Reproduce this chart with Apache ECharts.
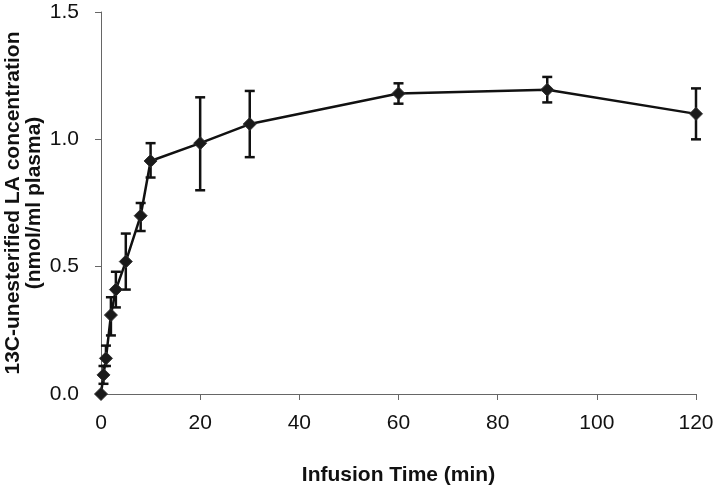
<!DOCTYPE html>
<html><head><meta charset="utf-8">
<script src="https://cdn.jsdelivr.net/npm/echarts@6/dist/echarts.min.js"></script>
<style>html,body{margin:0;padding:0;background:#fff}#c{width:717px;height:491px}</style>
</head><body><div id="c"></div>
<script>
var times = [0, 0.5, 1, 2, 3, 5, 8, 10, 20, 30, 60, 90, 120];
var means = [0.0, 0.075, 0.14, 0.31, 0.41, 0.52, 0.70, 0.915, 0.985, 1.06, 1.18, 1.195, 1.10];
var errUp = [0.0, 0.035, 0.05, 0.07, 0.07, 0.11, 0.05, 0.07, 0.18, 0.13, 0.04, 0.05, 0.10];
var errDown = [0.0, 0.035, 0.03, 0.08, 0.07, 0.11, 0.06, 0.065, 0.185, 0.13, 0.04, 0.05, 0.10];
var yTicks = ['0.0', '0.5', '1.0', '1.5'];

var lineData = times.map(function(t, i){ return [t, means[i]]; });
var errData = times.map(function(t, i){ return [t, means[i] - errDown[i], means[i] + errUp[i]]; });

var chart = echarts.init(document.getElementById('c'), null, {renderer: 'canvas'});
chart.setOption({
  animation: false,
  backgroundColor: '#fff',
  grid: {left: 101, right: 21, top: 12, bottom: 97, containLabel: false, outerBoundsMode: 'none'},
  xAxis: {
    type: 'value', min: 0, max: 120, interval: 20,
    name: 'Infusion Time (min)', nameLocation: 'middle', nameGap: 71, nameMoveOverlap: false,
    nameTextStyle: {fontFamily: 'Liberation Sans', fontWeight: 'bold', fontSize: 21, color: '#111'},
    axisLine: {show: true, lineStyle: {color: '#666', width: 1}},
    axisTick: {show: true, inside: false, length: 6, lineStyle: {color: '#666'}},
    axisLabel: {fontFamily: 'Liberation Sans', fontSize: 21, color: '#111', margin: 19},
    splitLine: {show: false}
  },
  yAxis: {
    type: 'value', min: 0, max: 1.5, interval: 0.5,
    name: '13C-unesterified LA concentration\n(nmol/ml plasma)', nameLocation: 'middle', nameGap: 56, nameMoveOverlap: false,
    nameTextStyle: {fontFamily: 'Liberation Sans', fontWeight: 'bold', fontSize: 21, color: '#111', lineHeight: 21},
    axisLine: {show: true, lineStyle: {color: '#666', width: 1}},
    axisTick: {show: true, inside: false, length: 6, lineStyle: {color: '#666'}},
    axisLabel: {fontFamily: 'Liberation Sans', fontSize: 21, color: '#111', margin: 22,
      formatter: function(v){ return yTicks[Math.round(v / 0.5)]; }},
    splitLine: {show: false}
  },
  series: [
    {
      type: 'custom',
      data: errData,
      z: 3,
      renderItem: function(params, api){
        var x = api.value(0);
        var lo = api.coord([x, api.value(1)]);
        var hi = api.coord([x, api.value(2)]);
        var w = 5;
        var st = {stroke: '#111', lineWidth: 2.5};
        return {type: 'group', children: [
          {type: 'line', shape: {x1: lo[0], y1: lo[1], x2: hi[0], y2: hi[1]}, style: st},
          {type: 'line', shape: {x1: lo[0]-w, y1: lo[1], x2: lo[0]+w, y2: lo[1]}, style: st},
          {type: 'line', shape: {x1: hi[0]-w, y1: hi[1], x2: hi[0]+w, y2: hi[1]}, style: st}
        ]};
      }
    },
    {
      type: 'line',
      data: lineData,
      z: 4,
      symbol: 'diamond',
      symbolSize: 13,
      lineStyle: {color: '#111', width: 2.5},
      itemStyle: {color: '#1a1a1a', borderColor: '#333', borderWidth: 1}
    }
  ]
});
</script></body></html>
